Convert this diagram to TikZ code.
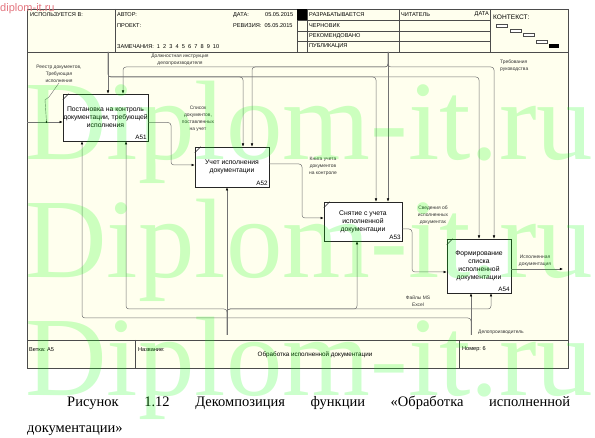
\documentclass[tikz,border=0pt]{standalone}
\usepackage{fontspec}
\setmainfont{Liberation Sans}
\newfontfamily\serifcap{Liberation Serif}
\usetikzlibrary{calc,positioning,arrows.meta}
\definecolor{idefbg}{RGB}{255,255,238}
\definecolor{wmgreen}{RGB}{0,255,0}
\definecolor{wmpink}{RGB}{228,118,128}
\newcommand{\boxfont}{\fontsize{6.8}{8}\selectfont}
\newcommand{\lblfont}{\fontsize{4.9}{7}\selectfont}
\newcommand{\hdrfont}{\fontsize{5.6}{6}\selectfont}
\newcommand{\capfont}{\serifcap\fontsize{14.5}{15}\selectfont}
\tikzset{
  func/.style={rectangle, draw=black!85, fill=white, line width=0.6pt, align=center, font=\boxfont, inner sep=0pt},
  num/.style={font=\fontsize{6.3}{7}\selectfont, inner sep=0pt, anchor=south east},
  connect/.style={-{Latex[length=3.2pt,width=2.6pt,color=black]}, draw=black!55, line width=0.5pt, rounded corners=3pt},
  lbl/.style={font=\lblfont, align=center, inner sep=0pt, text=black!80},
  hdr/.style={font=\hdrfont, anchor=west, inner sep=0pt},
  frameline/.style={draw=black!70, line width=0.7pt},
  wmark/.style={font=\serifcap\fontsize{113}{113}\selectfont, text=wmgreen, text opacity=0.2, anchor=base west, inner sep=0pt}
}

\begin{document}
\begin{tikzpicture}[x=1pt, y=-1pt]
  \useasboundingbox (0,0) rectangle (595,438);
  \fill[white] (0,0) rectangle (595,438);

  % frame, header and footer
  \fill[idefbg] (27,9) rectangle (568,368);
  \draw[frameline] (27,9) rectangle (568,368);
  \draw[frameline] (27,52) -- (568,52);
  \draw[frameline] (27,340) -- (568,340);
  \foreach \xx in {115,297,307,399,490}
    \draw[frameline] (\xx,9) -- (\xx,52);
  \foreach \yy in {20.5,31,41.5}
    \draw[frameline] (297,\yy) -- (490,\yy);
  \fill[black] (297,9) rectangle (307,20.5);
  \draw[frameline] (135,340) -- (135,368);
  \draw[frameline] (459,340) -- (459,368);
  \foreach \xa/\ya in {496/24,510/29,523/33,536/40}
    \draw[black!70, line width=0.4pt, fill=white] (\xa,\ya) rectangle ++(11,3.5);
  \fill[black] (549,44) rectangle (559,48);

  \node[hdr] (usedin) at (30,15) {ИСПОЛЬЗУЕТСЯ В:};
  \node[hdr] (author) at (117,15) {АВТОР:};
  \node[hdr] (project) at (117,25.5) {ПРОЕКТ:};
  \node[hdr] (notes) at (117,47) {ЗАМЕЧАНИЯ:\ \ 1\ \ 2\ \ 3\ \ 4\ \ 5\ \ 6\ \ 7\ \ 8\ \ 9\ \ 10};
  \node[hdr] (date) at (233,15) {ДАТА:};
  \node[hdr] (dateval) at (265,15) {05.05.2015};
  \node[hdr] (rev) at (233,25.5) {РЕВИЗИЯ:\ \ 05.05.2015};
  \node[hdr] (work) at (309,15) {РАЗРАБАТЫВАЕТСЯ};
  \node[hdr] (draft) at (309,25.5) {ЧЕРНОВИК};
  \node[hdr] (recom) at (309,36) {РЕКОМЕНДОВАНО};
  \node[hdr] (publ) at (309,46.5) {ПУБЛИКАЦИЯ};
  \node[hdr] (reader) at (401,15) {ЧИТАТЕЛЬ};
  \node[hdr, anchor=east] (rdate) at (489,14) {ДАТА};
  \node[hdr, font=\fontsize{6.6}{7}\selectfont] (context) at (493,17) {КОНТЕКСТ:};

  \node[hdr] (branch) at (29,349.5) {Ветка:\ А5};
  \node[hdr] (title) at (138,349.5) {Название:};
  \node[font=\fontsize{6.3}{7}\selectfont, inner sep=0pt] (titleval) at (315,355) {Обработка исполненной документации};
  \node[hdr] (number) at (462,349.5) {Номер:\ 6};

  % function blocks
  \node[func, minimum width=85pt, minimum height=47pt] (A51) at (105.5,117.5)
    {Постановка на контроль\\документации, требующей\\исполнения};
  \node[func, minimum width=74pt, minimum height=40pt] (A52) at (232,167)
    {Учет исполнения\\документации};
  \node[func, minimum width=78pt, minimum height=39pt] (A53) at (363,221.5)
    {Снятие с учета\\исполненной\\документации};
  \node[func, minimum width=64pt, minimum height=54pt] (A54) at (479,266)
    {Формирование\\списка\\исполненной\\документации};
  \foreach \b in {A51,A52,A53,A54} {
    \node[num] (\b n) at ([xshift=-1.5pt,yshift=1.5pt]\b.south east) {\b};
    \draw[black!85, line width=0.5pt] ([yshift=-6pt]\b.north west) -- ([xshift=6pt]\b.north west);
  }

  % arrow ends
  \coordinate (t51a) at ([xshift=2.5pt]A51.north);
  \coordinate (t51b) at ([xshift=17.5pt]A51.north);
  \coordinate (t52a) at ([xshift=11pt]A52.north);
  \coordinate (t52b) at ([xshift=20pt]A52.north);
  \coordinate (t53a) at ([xshift=13pt]A53.north);
  \coordinate (t53b) at ([xshift=25pt]A53.north);
  \coordinate (t54a) at (A54.north);
  \coordinate (t54b) at ([xshift=15pt]A54.north);
  \coordinate (b51a) at ([xshift=-23.5pt]A51.south);
  \coordinate (b51b) at ([xshift=20.5pt]A51.south);
  \coordinate (b52) at ([xshift=-5pt]A52.south);
  \coordinate (b53) at ([xshift=-6pt]A53.south);
  \coordinate (b54a) at ([xshift=-8pt]A54.south);
  \coordinate (b54b) at ([xshift=12pt]A54.south);
  \coordinate (ctlA) at (108,52);
  \coordinate (ctlB) at (388,52);
  \coordinate (busA) at (0,77);
  \coordinate (busB) at (0,67);
  \coordinate (mecA) at (227,335);
  \coordinate (mecB) at (471,335);
  \coordinate (busC) at (0,309);
  \coordinate (busD) at (0,318);
  \coordinate (inA) at (27,122);
  \coordinate (outA) at (563,269);

  % controls
  \draw[connect] (ctlA) -- (t51a);
  \draw[connect] (ctlA) |- (t52a |- busA) -- (t52a);
  \draw[connect] (ctlA) |- (t53a |- busA) -- (t53a);
  \draw[connect] (ctlA) |- (t54a |- busA) -- (t54a);
  \draw[connect] (ctlB) -- (t53b);
  \draw[connect] (ctlB) |- (t51b |- busB) -- (t51b);
  \draw[connect] (ctlB) |- (t52b |- busB) -- (t52b);
  \draw[connect] (ctlB) |- (t54b |- busB) -- (t54b);

  % mechanisms
  \draw[connect] (mecA) -- (b52);
  \draw[connect] (mecA) |- (b51b |- busC) -- (b51b);
  \draw[connect] (mecA) |- (b53 |- busC) -- (b53);
  \draw[connect] (mecA) |- (b54b |- busC) -- (b54b);
  \draw[connect] (mecB) -- (b54a);
  \draw[connect] (mecB) |- (b51a |- busD) -- (b51a);

  % inputs and outputs
  \draw[connect] (inA) -- (inA -| A51.west);
  \draw[connect] ([yshift=-5pt]A51.east) -| (171,165) -- ([yshift=2pt]A52.west);
  \draw[connect] ([yshift=3pt]A52.east) -| (302,218) -- ([yshift=3.5pt]A53.west);
  \draw[connect] ([yshift=-7.5pt]A53.east) -| (412,272) -- ([yshift=-6pt]A54.west);
  \draw[connect] ([yshift=-3pt]A54.east) -- (outA);

  % arrow labels
  \node[lbl] (reg) at (59,74) {Реестр документов,\\Требующая\\исполнения};
  \draw[black!55, line width=0.4pt] (reg.south) -- (49,97) -- (45,100) -- (46.5,122);
  \fill[black] (46.5,122) circle (0.8);
  \node[lbl] (instr) at (180,60) {Должностная инструкция\\делопроизводителя};
  \node[lbl, align=left, anchor=west] (req) at (500,66) {Требования\\руководства};
  \node[lbl] (list) at (198,118.5) {Список\\документов,\\поставленных\\на учет};
  \node[lbl] (book) at (323,166) {Книга учета\\документов\\на контроле};
  \node[lbl] (info) at (433,215) {Сведения об\\исполненных\\документах};
  \node[lbl] (done) at (535,261) {Исполненная\\документация};
  \node[lbl] (files) at (418,301.5) {Файлы MS\\Excel};
  \node[lbl, anchor=west] (clerk) at (478,332) {Делопроизводитель};

  % caption
  \node[anchor=base west, inner sep=0pt, font=\capfont] (cap1) at (67,407)
    {\hbox to 503pt{Рисунок\hfill 1.12\hfill Декомпозиция\hfill функции\hfill «Обработка\hfill исполненной}};
  \node[anchor=base west, inner sep=0pt, font=\capfont] (cap2) at (27,433)
    {документации»};

  % watermark
  \foreach \yy in {160,278,396}
    \node[wmark] at (25,\yy) {Diplom-it.ru};
  \node[anchor=west, inner sep=0pt, font=\fontsize{11}{12}\selectfont, text=wmpink] (site) at (0,9) {diplom-it.ru};
\end{tikzpicture}
\end{document}
